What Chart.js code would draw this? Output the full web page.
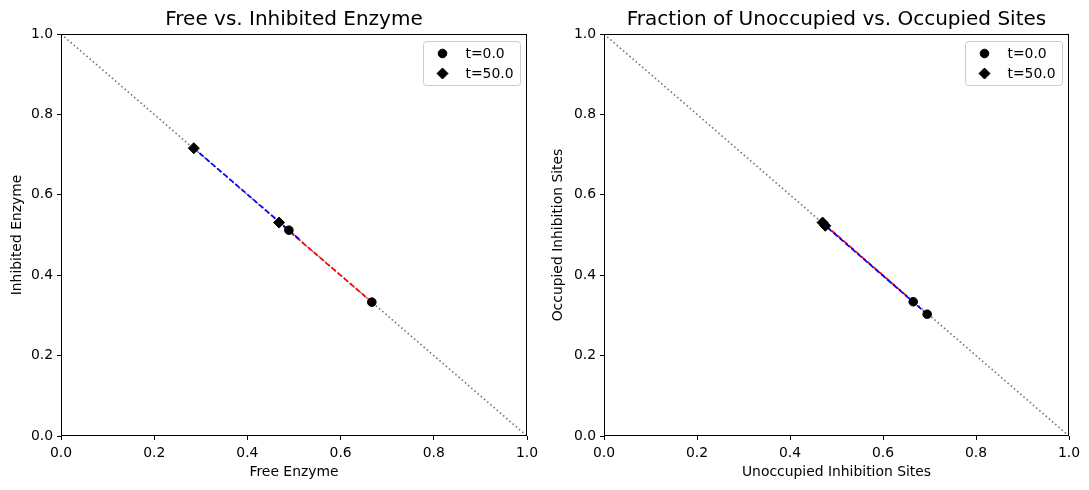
<!DOCTYPE html>
<html>
<head>
<meta charset="utf-8">
<script src="https://cdn.jsdelivr.net/npm/chart.js@4.4.0/dist/chart.umd.min.js"></script>
<style>
  html, body { margin: 0; padding: 0; background: #fff; }
  #wrap { position: relative; width: 1089px; height: 490px; }
  canvas { position: absolute; top: 0; }
</style>
</head>
<body>
<div id="wrap">
  <canvas id="left" width="544" height="490" style="left:0"></canvas>
  <canvas id="right" width="545" height="490" style="left:544px"></canvas>
</div>
<script>
// ---- data ----
const tickLabels = ["0.0", "0.2", "0.4", "0.6", "0.8", "1.0"];
const legendLabels = ["t=0.0", "t=50.0"];

// dotted reference diagonal
const diagX = [0, 1];
const diagY = [1, 0];

// left panel: free vs inhibited enzyme
const freeRed = [0.667, 0.468];
const inhibRed = [0.333, 0.531];
const freeBlue = [0.489, 0.513, 0.285];
const inhibBlue = [0.512, 0.488, 0.716];

// right panel: unoccupied vs occupied sites
const unoccRed = [0.665, 0.470];
const occRed = [0.334, 0.531];
const unoccBlue = [0.695, 0.476];
const occBlue = [0.303, 0.523];

// ---- helpers ----
const FONT = "DejaVu Sans";
const TXT = 13.9;
Chart.defaults.font.family = FONT;
Chart.defaults.color = "#000";

function pts(xs, ys) {
    return xs.map((x, i) => ({ x: x, y: ys[i] }));
}

function firstPts(list) {
    return list.map(s => ({ x: s[0][0], y: s[1][0] }));
}

function lastPts(list) {
    return list.map(s => ({ x: s[0][s[0].length - 1], y: s[1][s[1].length - 1] }));
}

// frame + legend drawn on top
const framePlugin = {
    id: "frame",
    afterDraw(chart) {
        const ctx = chart.ctx;
        const a = chart.chartArea;
        ctx.save();
        ctx.strokeStyle = "#000";
        ctx.lineWidth = 1;
        ctx.strokeRect(Math.round(a.left) + 0.5, Math.round(a.top) + 0.5,
            Math.round(a.right - a.left) - 1, Math.round(a.bottom - a.top) - 1);

        // legend box
        const w = 97, h = 44;
        const bx = Math.round(a.right) - 7 - w + 0.5;
        const by = Math.round(a.top) + 7 + 0.5;
        ctx.beginPath();
        ctx.roundRect(bx, by, w, h, 3);
        ctx.fillStyle = "rgba(255,255,255,0.8)";
        ctx.fill();
        ctx.strokeStyle = "#cccccc";
        ctx.stroke();

        const styles = [
            { pointStyle: "circle", radius: 4.3, rotation: 0, borderWidth: 1 },
            { pointStyle: "rectRot", radius: 5.5, rotation: 0, borderWidth: 1 }
        ];
        ctx.font = TXT + "px '" + FONT + "'";
        ctx.textBaseline = "middle";
        ctx.textAlign = "left";
        legendLabels.forEach((lab, i) => {
            const y = by + 12 + i * 20;
            ctx.fillStyle = "#000";
            ctx.strokeStyle = "#000";
            Chart.helpers.drawPoint(ctx, styles[i], bx + 19, y);
            ctx.fillStyle = "#000";
            ctx.fillText(lab, bx + 42, y + 1);
        });
        ctx.restore();
    }
};

function makeChart(id, title, xTitle, yTitle, red, blue, plotLeft, padRight, yTitlePad) {
    const lineDash = [5.5, 2.4];
    const datasets = [
        {
            data: pts(diagX, diagY),
            showLine: true,
            borderColor: "#777777",
            borderWidth: 1.6,
            borderDash: [1.6, 2.6],
            pointRadius: 0,
            order: 5
        },
        {
            data: pts(red[0], red[1]),
            showLine: true,
            borderColor: "#ff0000",
            borderWidth: 1.7,
            borderDash: lineDash,
            pointRadius: 0,
            order: 4
        },
        {
            data: pts(blue[0], blue[1]),
            showLine: true,
            borderColor: "#0000ff",
            borderWidth: 1.7,
            borderDash: lineDash,
            pointRadius: 0,
            order: 3
        },
        {
            data: firstPts([red, blue]),
            showLine: false,
            pointStyle: "circle",
            pointRadius: 4.3,
            backgroundColor: "#000",
            borderColor: "#000",
            borderWidth: 1,
            order: 2
        },
        {
            data: lastPts([red, blue]),
            showLine: false,
            pointStyle: "rectRot",
            pointRadius: 5.5,
            backgroundColor: "#000",
            borderColor: "#000",
            borderWidth: 1,
            order: 1
        }
    ];

    const axis = (label, isX) => ({
        type: "linear",
        min: 0,
        max: 1,
        ticks: {
            stepSize: 0.2,
            font: { size: TXT },
            color: "#000",
            padding: isX ? 5 : 4,
            callback: (v, i) => tickLabels[i]
        },
        grid: {
            drawOnChartArea: false,
            drawTicks: true,
            tickLength: 4,
            color: "#000"
        },
        border: { display: false },
        title: {
            display: true,
            text: label,
            font: { size: TXT },
            color: "#000",
            padding: isX ? { top: 4, bottom: 9.6 } : { top: yTitlePad, bottom: 4 }
        },
        afterFit: (s) => {
            if (isX) s.height = 54; else s.width = plotLeft;
        }
    });

    return new Chart(document.getElementById(id), {
        type: "scatter",
        data: { datasets: datasets },
        options: {
            responsive: false,
            animation: false,
            devicePixelRatio: 1,
            layout: { padding: { left: 0, right: padRight, top: 0, bottom: 0 } },
            plugins: {
                legend: { display: false },
                tooltip: { enabled: false },
                title: {
                    display: true,
                    fullSize: false,
                    text: title,
                    font: { size: 20, weight: "normal" },
                    color: "#000",
                    padding: { top: 8, bottom: 2 }
                }
            },
            scales: {
                x: axis(xTitle, true),
                y: axis(yTitle, false)
            }
        },
        plugins: [framePlugin]
    });
}

makeChart("left", "Free vs. Inhibited Enzyme", "Free Enzyme", "Inhibited Enzyme",
    [freeRed, inhibRed], [freeBlue, inhibBlue], 61, 17, 8.6);

makeChart("right", "Fraction of Unoccupied vs. Occupied Sites", "Unoccupied Inhibition Sites", "Occupied Inhibition Sites",
    [unoccRed, occRed], [unoccBlue, occBlue], 60, 20, 5.6);
</script>
</body>
</html>
